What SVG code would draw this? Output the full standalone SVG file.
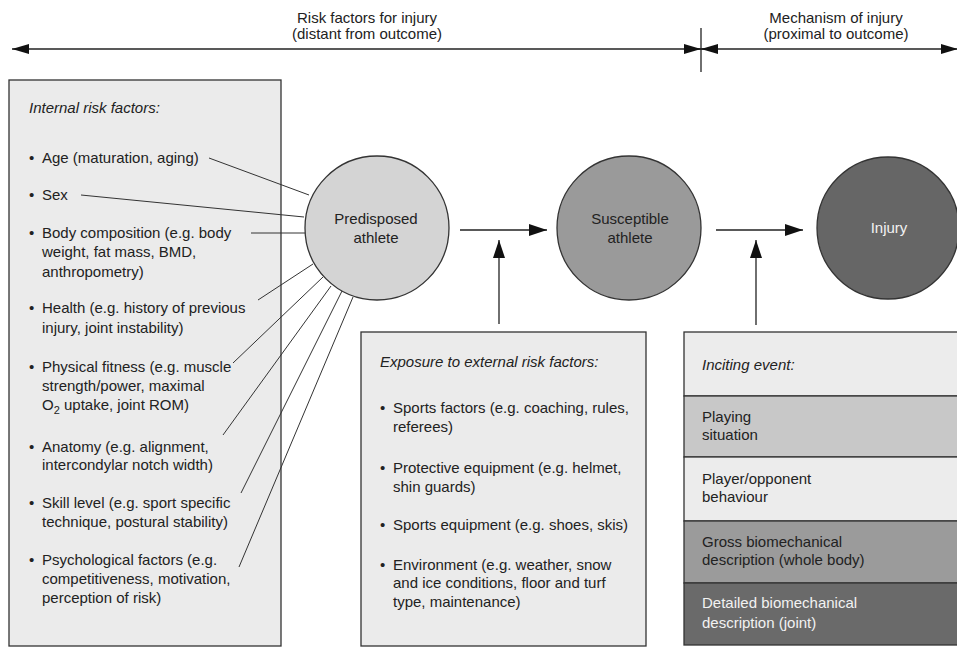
<svg xmlns="http://www.w3.org/2000/svg" width="957" height="648" viewBox="0 0 957 648">
<defs>
<style>
text{font-family:"Liberation Sans",Arial,sans-serif;font-size:15px;fill:#222}
.it{font-style:italic}
.c{text-anchor:middle}
.w{fill:#f2f2f2}
.box{stroke:#333;stroke-width:1.3}
.ln{stroke:#333;stroke-width:1;fill:none}
.ar{stroke:#222;stroke-width:1.3;fill:none}
</style>
<marker id="ah" viewBox="0 0 18 12" refX="18" refY="6" markerWidth="18" markerHeight="12" markerUnits="userSpaceOnUse" orient="auto">
<path d="M0,0 L18,6 L0,12 Z" fill="#111"/>
</marker>
<marker id="ahs" viewBox="0 0 17 10" refX="17" refY="5" markerWidth="17" markerHeight="10" markerUnits="userSpaceOnUse" orient="auto">
<path d="M0,0 L17,5 L0,10 Z" fill="#111"/>
</marker>
</defs>
<rect width="957" height="648" fill="#fff"/>

<g id="timeline">
<line class="ar" x1="701" y1="49" x2="12" y2="49" marker-end="url(#ahs)"/>
<line class="ar" x1="701" y1="49" x2="958" y2="49" marker-end="url(#ahs)"/>
<line class="ar" x1="684" y1="49" x2="701" y2="49" marker-end="url(#ahs)"/>
<line class="ar" x1="718" y1="49" x2="701" y2="49" marker-end="url(#ahs)"/>
<line class="ar" x1="701" y1="28" x2="701" y2="72"/>
<text class="c" x="367" y="23">Risk factors for injury</text>
<text class="c" x="367" y="39">(distant from outcome)</text>
<text class="c" x="836" y="23">Mechanism of injury</text>
<text class="c" x="836" y="39">(proximal to outcome)</text>
</g>

<g id="internal">
<rect class="box" x="9" y="80" width="272" height="566" fill="#ebebeb"/>
<text class="it" x="29" y="113">Internal risk factors:</text>
<text x="29" y="163">•</text><text x="42" y="163">Age (maturation, aging)</text>
<text x="29" y="200">•</text><text x="42" y="200">Sex</text>
<text x="29" y="238">•</text><text x="42" y="238">Body composition (e.g. body</text>
<text x="42" y="257">weight, fat mass, BMD,</text>
<text x="42" y="277">anthropometry)</text>
<text x="29" y="313">•</text><text x="42" y="313">Health (e.g. history of previous</text>
<text x="42" y="333">injury, joint instability)</text>
<text x="29" y="372">•</text><text x="42" y="372">Physical fitness (e.g. muscle</text>
<text x="42" y="391">strength/power, maximal</text>
<text x="42" y="410">O<tspan font-size="11" dy="4">2</tspan><tspan dy="-4"> uptake, joint ROM)</tspan></text>
<text x="29" y="452">•</text><text x="42" y="452">Anatomy (e.g. alignment,</text>
<text x="42" y="470">intercondylar notch width)</text>
<text x="29" y="508">•</text><text x="42" y="508">Skill level (e.g. sport specific</text>
<text x="42" y="527">technique, postural stability)</text>
<text x="29" y="565">•</text><text x="42" y="565">Psychological factors (e.g.</text>
<text x="42" y="584">competitiveness, motivation,</text>
<text x="42" y="603">perception of risk)</text>
</g>

<g id="external">
<rect class="box" x="361" y="332" width="285" height="314" fill="#ebebeb"/>
<text class="it" x="380" y="367">Exposure to external risk factors:</text>
<text x="380" y="413">•</text><text x="393" y="413">Sports factors (e.g. coaching, rules,</text>
<text x="393" y="432">referees)</text>
<text x="380" y="473">•</text><text x="393" y="473">Protective equipment (e.g. helmet,</text>
<text x="393" y="492">shin guards)</text>
<text x="380" y="530">•</text><text x="393" y="530">Sports equipment (e.g. shoes, skis)</text>
<text x="380" y="570">•</text><text x="393" y="570">Environment (e.g. weather, snow</text>
<text x="393" y="588">and ice conditions, floor and turf</text>
<text x="393" y="607">type, maintenance)</text>
</g>

<g id="inciting">
<rect class="box" x="684" y="332" width="276" height="64" fill="#ececec"/>
<rect class="box" x="684" y="396" width="276" height="61" fill="#c8c8c8"/>
<rect class="box" x="684" y="457" width="276" height="64" fill="#ececec"/>
<rect class="box" x="684" y="521" width="276" height="62" fill="#9b9b9b"/>
<rect class="box" x="684" y="583" width="276" height="62" fill="#6a6a6a"/>
<text class="it" x="702" y="370">Inciting event:</text>
<text x="702" y="422">Playing</text>
<text x="702" y="440">situation</text>
<text x="702" y="484">Player/opponent</text>
<text x="702" y="502">behaviour</text>
<text x="702" y="547">Gross biomechanical</text>
<text x="702" y="565">description (whole body)</text>
<text class="w" x="702" y="608">Detailed biomechanical</text>
<text class="w" x="702" y="628">description (joint)</text>
</g>

<g id="predisposed">
<circle class="box" cx="377" cy="228" r="72" fill="#d4d4d4"/>
<text class="c" x="376" y="224">Predisposed</text>
<text class="c" x="376" y="243">athlete</text>
</g>
<g id="susceptible">
<circle class="box" cx="629" cy="228" r="72" fill="#9a9a9a"/>
<text class="c" x="630" y="224">Susceptible</text>
<text class="c" x="630" y="243">athlete</text>
</g>
<g id="injury">
<circle class="box" cx="888" cy="228" r="71" fill="#666"/>
<text class="c w" x="889" y="233">Injury</text>
</g>

<g id="connectors">
<line class="ln" x1="209" y1="158" x2="309" y2="195"/>
<line class="ln" x1="81" y1="195" x2="304" y2="217"/>
<line class="ln" x1="251" y1="233" x2="305" y2="233"/>
<line class="ln" x1="258" y1="300" x2="313" y2="264"/>
<line class="ln" x1="233" y1="363" x2="323" y2="277"/>
<line class="ln" x1="223" y1="435" x2="331" y2="286"/>
<line class="ln" x1="241" y1="493" x2="342" y2="291"/>
<line class="ln" x1="239" y1="567" x2="353" y2="297"/>
<line class="ar" x1="460" y1="230" x2="547" y2="230" marker-end="url(#ah)"/>
<line class="ar" x1="499" y1="324" x2="499" y2="240" marker-end="url(#ah)"/>
<line class="ar" x1="716" y1="230" x2="803" y2="230" marker-end="url(#ah)"/>
<line class="ar" x1="756" y1="325" x2="756" y2="240" marker-end="url(#ah)"/>
</g>
</svg>
